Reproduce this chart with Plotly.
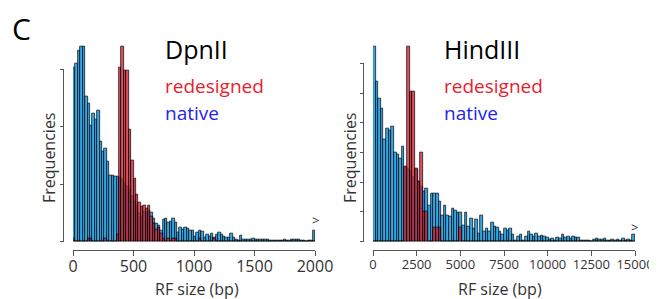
import numpy as np
import plotly.graph_objects as go

# ---------------- data ----------------
dpn_bin_width = 20          # bp per bin, DpnII
dpn_native = [174, 178, 191, 195, 195, 145, 138, 116, 128, 122,
              131, 100, 90, 93, 80, 66, 66, 65, 65, 64,
              62, 58, 55, 52, 45, 40, 36, 28, 24, 30,
              28, 31, 29, 23, 18, 16, 11, 22, 23, 19,
              20, 23, 19, 9, 14, 12, 14, 13, 11, 11,
              5, 9, 11, 10, 4, 7, 5, 8, 4, 7,
              9, 7, 5, 4, 4, 8, 4, 2, 1.5, 6.5,
              2, 2, 2, 2, 3, 2, 2, 2, 2, 2,
              2.5, 1, 1, 1, 1, 1, 1.5, 2, 1, 1,
              2, 2, 2, 2, 1.5, 1, 0, 1, 1, 11.5]
dpn_redesigned = [3.5, 0, 0, 0, 0, 0, 3, 3, 0, 0,
                  0, 0, 0, 3, 0, 0, 0, 0, 7, 174,
                  195, 171, 171, 112, 81, 63, 47, 39, 35, 36,
                  33, 36, 25, 18, 12, 14, 8, 3, 0, 3,
                  0, 3, 3, 0, 0, 0, 0, 0, 0, 0,
                  0, 0, 3, 0, 0, 0, 0, 0, 3, 0,
                  0, 0, 0, 0, 0, 0, 0, 0, 0, 0,
                  0, 0, 0, 0, 0, 0, 0, 0, 0, 0,
                  0, 0, 0, 0, 0, 0, 0, 0, 0, 0,
                  0, 0, 0, 0, 0, 0, 0, 0, 0, 0]

hind_bin_width = 150        # bp per bin, HindIII
hind_native = [195, 160, 143, 133, 102, 113, 111, 115, 89, 87,
               83, 95, 74, 72, 70, 64, 72, 60, 55, 50,
               53, 36, 48, 48, 48, 40, 26, 36, 26, 25,
               33, 31, 29, 29, 16, 29, 15, 23, 13, 22,
               8, 26, 10, 13, 10, 19, 15, 14, 10, 7.5,
               13, 11, 13, 7.5, 1.5, 5.5, 7.5, 1, 5, 10,
               7.5, 5, 8, 5, 6.5, 5, 4, 2, 3, 1,
               4, 3, 7, 4, 5, 3, 5.5, 4, 4, 1,
               1, 1, 1.5, 0, 2, 3, 2, 2, 3, 1.5,
               1.5, 2, 1.5, 2, 1.5, 3, 1.5, 2, 1.5, 7.5]
hind_redesigned = [0, 0, 0, 0, 0, 0, 0, 0, 0, 0,
                   0, 0, 75, 195, 150, 150, 73, 60, 89, 30,
                   30, 0, 0, 14, 14, 14, 0, 0, 0, 0,
                   0, 0, 0, 14, 0, 0, 0, 0, 0, 0,
                   0, 0, 0, 0, 0, 0, 0, 0, 0, 0,
                   0, 0, 0, 0, 0, 0, 0, 0, 0, 0,
                   0, 0, 0, 0, 0, 0, 0, 0, 0, 0,
                   0, 0, 0, 0, 0, 0, 0, 0, 0, 0,
                   0, 0, 0, 0, 0, 0, 0, 0, 0, 0,
                   0, 0, 0, 0, 0, 0, 0, 0, 0, 0]

dpn_xticks = [0, 500, 1000, 1500, 2000]
hind_xticks = [0, 2500, 5000, 7500, 10000, 12500, 15000]
dpn_yticks = [0, 57.5, 115, 172.5]
hind_yticks = [0, 29.7, 59.4, 89.1, 118.8, 148.5, 178.2]

# ---------------- style ----------------
OFF = 8                      # page body margin of the html page
W, H = 657 - OFF, 299 - OFF
FONT = "Open Sans"
BLUE = "rgb(52,168,232)"
RED = "rgba(212,22,38,0.74)"
AX = "#555555"
TXT = "#333333"


def px(x):
    return (x - OFF) / W


def py(y):
    return 1 - (y - OFF) / H


def centers(n, width):
    return (np.arange(n) + 0.5) * width


fig = go.Figure()
for xa, ya, nat, red, bw in [("x", "y", dpn_native, dpn_redesigned, dpn_bin_width),
                             ("x2", "y2", hind_native, hind_redesigned, hind_bin_width)]:
    xc = centers(len(nat), bw)
    fig.add_trace(go.Bar(x=xc, y=nat, width=bw, xaxis=xa, yaxis=ya,
                         marker=dict(color=BLUE, line=dict(color="black", width=0.7)),
                         showlegend=False, hoverinfo="skip"))
    fig.add_trace(go.Bar(x=xc, y=red, width=bw, xaxis=xa, yaxis=ya,
                         marker=dict(color=RED, line=dict(color="black", width=0.7)),
                         showlegend=False, hoverinfo="skip"))

common_x = dict(anchor="free", position=py(250), showline=True, linecolor=AX, linewidth=1,
                ticks="outside", ticklen=5, tickcolor=AX, tickwidth=1, automargin=False,
                ticklabelstandoff=-3,
                showgrid=False, zeroline=False, fixedrange=True)
common_y = dict(anchor="free", showline=False, ticks="outside", ticklen=4, tickcolor=AX,
                tickwidth=1, showticklabels=False, showgrid=False, zeroline=False,
                automargin=False, range=[0, 200], domain=[py(241.5), py(41.5)])

fig.update_layout(
    template="none",
    width=W, height=H,
    margin=dict(l=0, r=0, t=0, b=0, pad=0, autoexpand=False),
    paper_bgcolor="white", plot_bgcolor="white",
    barmode="overlay", bargap=0,
    font=dict(family=FONT, color=TXT),
    xaxis=dict(domain=[px(73), px(315)], range=[0, 2000], tickvals=dpn_xticks,
               ticktext=[str(v) for v in dpn_xticks],
               tickfont=dict(size=16, color=TXT, family=FONT), **common_x),
    yaxis=dict(position=px(63.5), tickvals=dpn_yticks, **common_y),
    xaxis2=dict(domain=[px(373), px(635)], range=[0, 15000], tickvals=hind_xticks,
                ticktext=[str(v) for v in hind_xticks],
                tickfont=dict(size=13, color=TXT, family=FONT), **common_x),
    yaxis2=dict(position=px(363.5), tickvals=hind_yticks, **common_y),
)

# y axis lines spanning first to last tick
fig.add_shape(type="line", xref="paper", yref="y", x0=px(63.5), x1=px(63.5),
              y0=dpn_yticks[0], y1=dpn_yticks[-1], line=dict(color=AX, width=1))
fig.add_shape(type="line", xref="paper", yref="y2", x0=px(363.5), x1=px(363.5),
              y0=hind_yticks[0], y1=hind_yticks[-1], line=dict(color=AX, width=1))


def ann(text, x, y, size, color=TXT, xanchor="left", angle=0):
    fig.add_annotation(text=text, x=px(x), y=py(y), xref="paper", yref="paper",
                       xanchor=xanchor, yanchor="middle", showarrow=False,
                       textangle=angle, font=dict(family=FONT, size=size, color=color))


ann("C", 10, 29, 30, "black")
for x0, name in [(163, "DpnII"), (442, "HindIII")]:
    ann(name, x0, 49, 25, "black")
    ann("redesigned", x0, 86, 19, "#E8212B")
    ann("native", x0, 113, 19, "#2323EE")

ann("Frequencies", 49, 158, 16, TXT, "center", -90)
ann("Frequencies", 350, 158, 16, TXT, "center", -90)
ann("RF size (bp)", 197, 289, 16, TXT, "center")
ann("RF size (bp)", 500, 289, 16, TXT, "center")
ann(">", 315, 220, 13, TXT, "center")
ann(">", 634, 227, 13, TXT, "center")

fig.write_html("out.html")
